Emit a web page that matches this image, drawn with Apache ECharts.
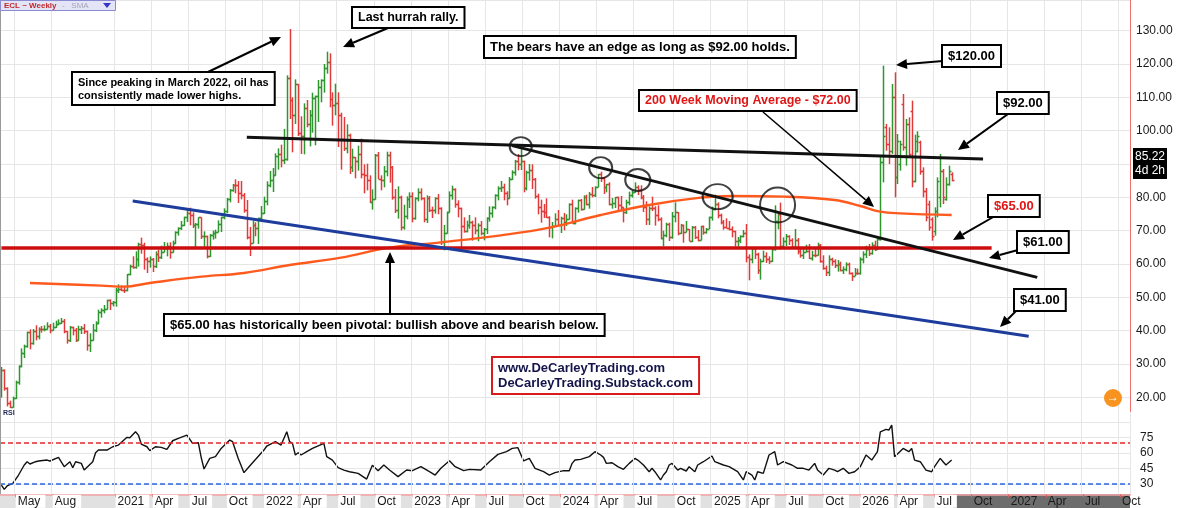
<!DOCTYPE html>
<html>
<head>
<meta charset="utf-8">
<script src="https://cdn.jsdelivr.net/npm/echarts@6/dist/echarts.min.js"></script>
<style>
  html, body { margin: 0; padding: 0; background: #fff; }
  #main { width: 1200px; height: 508px; }
</style>
</head>
<body>
<div id="main"></div>
<script>
// weekly bars [open, high, low, close], one array per year (weeks start Monday 2020-03-30)
const bars2020 = [
  [21.7,29.1,19.9,28.3],[28.3,28.4,22.0,22.8],[22.8,23.0,17.3,18.3],[18.3,19.0,16.8,17.0],[17.0,20.2,16.9,19.8],
  [19.8,25.0,19.5,24.7],[24.7,29.6,23.8,29.4],[29.4,34.7,29.0,33.3],[33.3,35.8,31.8,35.5],[35.5,39.7,34.9,39.6],
  [39.6,40.4,34.4,36.3],[36.3,40.5,35.8,39.8],[39.8,41.6,37.1,38.5],[38.5,41.0,37.4,40.6],[40.6,41.4,39.4,40.5],
  [40.5,41.6,39.8,40.6],[40.6,42.5,40.3,41.3],[41.3,42.0,39.2,40.3],[40.3,42.4,40.0,41.2],[41.2,43.0,40.8,42.0],
  [42.0,43.4,41.6,42.3],[42.3,43.8,42.0,43.0],[43.0,43.5,39.2,39.8],[39.8,39.9,36.1,37.3],[37.3,41.4,36.6,41.1],
  [41.1,41.2,38.6,40.3],[40.3,40.8,36.6,37.1],[37.1,41.5,37.0,40.6],[40.6,41.4,39.0,40.9],[40.9,42.0,39.0,39.9],
  [39.9,40.0,34.0,35.8],[35.8,39.2,33.6,37.1],[37.1,42.0,37.0,40.1],[40.1,42.8,39.6,42.2],[42.2,46.3,41.9,45.5],
  [45.5,46.7,43.9,46.3],[46.3,47.7,45.2,46.6],[46.6,49.3,46.3,49.1],[49.1,49.4,46.2,48.2],[48.2,48.9,47.3,48.5]
];
const bars2021 = [
  [48.5,52.8,47.2,52.2],[52.2,53.9,51.3,52.4],[52.4,53.6,51.9,52.3],[52.3,53.5,51.3,52.2],[52.2,57.0,51.8,56.9],
  [56.9,59.8,56.6,59.5],[59.5,62.3,58.6,59.2],[59.2,63.8,58.6,61.5],[61.5,66.4,59.2,66.1],[66.1,67.9,63.1,65.6],
  [65.6,66.4,58.3,61.4],[61.4,62.0,57.3,61.0],[61.0,62.3,58.9,61.5],[61.5,61.8,57.6,59.3],[59.3,63.8,58.8,63.1],
  [63.1,64.3,60.6,62.1],[62.1,65.5,61.5,63.6],[63.6,66.6,63.5,64.9],[64.9,66.4,62.3,65.4],[65.4,66.5,61.6,63.6],
  [63.6,67.0,63.4,66.3],[66.3,69.8,66.0,69.6],[69.6,71.0,68.5,70.9],[70.9,72.9,70.2,71.6],[71.6,74.2,71.4,74.1],
  [74.1,76.2,72.6,75.2],[75.2,76.9,71.6,74.6],[74.6,75.5,70.8,71.8],[71.8,72.3,65.0,72.1],[72.1,74.0,70.6,74.0],
  [74.0,74.0,67.5,68.3],[68.3,69.8,65.2,68.4],[68.4,68.5,61.7,62.3],[62.3,69.0,62.1,68.7],[68.7,70.0,67.3,69.3],
  [69.3,70.3,67.6,69.7],[69.7,73.1,69.5,72.0],[72.0,74.2,69.6,74.0],[74.0,76.7,73.4,75.9],[75.9,79.8,75.3,79.4],
  [79.4,82.5,78.5,82.3],[82.3,84.0,81.7,83.8],[83.8,85.4,81.2,83.6],[83.6,84.9,78.3,81.3],[81.3,84.9,79.4,80.8],
  [80.8,81.3,75.4,76.1],[76.1,79.2,67.4,68.2],[68.2,71.1,62.4,66.3],[66.3,72.9,66.2,71.7],[71.7,72.5,68.3,70.9],
  [70.9,73.9,66.0,73.8],[73.8,77.4,73.3,75.2]
];
const bars2022 = [
  [75.2,80.2,75.0,78.9],[78.9,84.8,77.6,83.8],[83.8,87.9,83.0,85.1],[85.1,88.8,81.6,86.8],[86.8,93.2,86.5,92.3],
  [92.3,94.7,88.3,93.1],[93.1,95.8,89.0,91.1],[91.1,100.5,90.0,91.6],[91.6,116.6,91.0,115.7],[115.7,130.5,103.5,109.3],
  [109.3,110.0,93.5,104.7],[104.7,115.4,102.0,113.9],[113.9,114.0,98.4,99.3],[99.3,104.3,93.0,98.3],[98.3,108.2,92.9,106.9],
  [106.9,109.2,101.0,102.1],[102.1,106.2,95.3,104.7],[104.7,111.4,99.4,109.8],[109.8,110.5,95.6,110.5],[110.5,115.2,102.6,113.2],
  [113.2,115.4,108.5,115.1],[115.1,120.0,111.4,118.9],[118.9,123.7,117.1,120.7],[120.7,123.2,107.0,109.6],[109.6,111.5,101.5,107.6],
  [107.6,114.1,104.6,108.4],[108.4,111.5,95.1,104.8],[104.8,105.4,88.3,97.6],[97.6,104.1,93.9,94.7],[94.7,101.9,93.2,98.6],
  [98.6,99.1,87.0,89.0],[89.0,94.6,87.6,92.1],[92.1,92.1,85.7,90.8],[90.8,95.5,88.0,93.1],[93.1,97.6,85.7,86.9],
  [86.9,89.9,81.2,86.8],[86.8,90.1,82.1,85.1],[85.1,86.6,78.3,78.7],[78.7,82.4,76.3,79.5],[79.5,93.0,79.3,92.6],
  [92.6,93.6,85.5,85.6],[85.6,86.6,82.1,85.1],[85.1,89.4,83.0,87.9],[87.9,93.7,86.3,92.6],[92.6,93.7,84.4,89.0],
  [89.0,89.4,79.3,80.1],[80.1,82.5,75.3,76.3],[76.3,83.3,73.6,80.0],[80.0,80.5,70.1,71.0],[71.0,77.8,70.3,74.3],
  [74.3,80.3,73.4,79.6],[79.6,81.5,76.8,80.3]
];
const bars2023 = [
  [80.3,81.5,72.5,73.8],[73.8,80.0,73.3,79.9],[79.9,82.7,78.8,81.6],[81.6,82.7,79.1,79.7],[79.7,80.0,72.5,73.4],
  [73.4,80.6,72.3,79.7],[79.7,80.4,75.6,76.3],[76.3,77.2,73.8,76.2],[76.2,80.0,75.1,79.7],[79.7,81.0,74.9,76.7],
  [76.7,77.0,65.7,66.7],[66.7,71.7,64.1,69.3],[69.3,75.7,69.1,75.7],[75.7,81.8,75.5,80.7],[80.7,83.5,79.3,82.5],
  [82.5,82.7,76.9,77.9],[77.9,79.1,74.0,76.8],[76.8,76.9,63.6,71.3],[71.3,74.0,69.4,70.0],[70.0,73.0,69.5,71.7],
  [71.7,74.7,70.6,72.7],[72.7,73.0,67.0,71.7],[71.7,74.0,68.9,70.2],[70.2,72.2,66.8,71.8],[71.8,72.9,68.6,69.2],
  [69.2,70.8,67.1,70.6],[70.6,74.0,69.0,73.9],[73.9,77.3,72.7,75.4],[75.4,77.3,73.9,77.1],[77.1,80.9,76.4,80.6],
  [80.6,83.3,79.1,82.8],[82.8,84.9,81.6,83.2],[83.2,84.1,79.1,81.3],[81.3,81.8,77.6,79.8],[79.8,86.1,79.6,85.6],
  [85.6,88.1,85.2,87.5],[87.5,91.2,86.5,90.8],[90.8,93.0,88.1,90.0],[90.0,95.0,88.2,90.8],[90.8,91.0,81.5,82.8],
  [82.8,88.0,82.1,87.7],[87.7,90.0,85.0,88.1],[88.1,89.9,82.5,85.5],[85.5,85.8,79.6,80.5],[80.5,81.1,74.9,77.2],
  [77.2,79.3,72.4,75.9],[75.9,78.0,73.8,75.5],[75.5,79.7,73.8,74.1],[74.1,74.3,68.0,71.2],[71.2,72.6,67.7,71.4],
  [71.4,75.2,71.3,73.6],[73.6,76.2,71.4,71.7]
];
const bars2024 = [
  [71.7,74.2,69.3,73.8],[73.8,75.3,70.1,72.7],[72.7,74.9,71.4,73.4],[73.4,78.2,73.3,78.0],[78.0,79.3,72.2,72.3],
  [72.3,77.0,71.9,76.8],[76.8,79.3,75.4,79.2],[79.2,79.5,76.0,76.5],[76.5,80.6,76.3,80.0],[80.0,80.8,77.6,78.0],
  [78.0,81.6,76.6,81.0],[81.0,83.1,80.0,80.6],[80.6,83.3,80.1,83.2],[83.2,87.0,83.0,86.9],[86.9,87.7,84.6,85.7],
  [85.7,86.2,81.0,83.1],[83.1,84.0,81.5,83.9],[83.9,84.5,77.6,78.1],[78.1,79.8,76.6,78.3],[78.3,80.1,76.8,80.1],
  [80.1,80.2,76.1,77.7],[77.7,80.4,76.3,77.0],[77.0,77.0,72.5,75.5],[75.5,79.3,75.0,78.5],[78.5,81.7,77.6,80.7],
  [80.7,82.1,79.9,81.5],[81.5,84.5,81.4,83.2],[83.2,83.6,80.7,82.2],[82.2,83.6,79.4,80.1],[80.1,80.7,75.6,77.2],
  [77.2,78.8,71.7,73.5],[73.5,77.3,71.7,76.8],[76.8,80.2,75.9,76.7],[76.7,77.3,71.5,74.8],[74.8,77.6,72.8,73.6],
  [73.6,74.0,67.4,67.7],[67.7,70.0,65.3,68.7],[68.7,72.4,68.0,71.9],[71.9,72.4,66.9,68.2],[68.2,75.6,67.6,74.4],
  [74.4,78.5,72.5,75.6],[75.6,75.6,68.6,69.2],[69.2,72.0,69.0,71.8],[71.8,71.8,66.4,69.5],[69.5,72.9,69.5,70.4],
  [70.4,70.5,66.9,67.0],[67.0,71.4,66.6,71.2],[71.2,71.4,67.5,68.0],[68.0,70.2,66.8,67.2],[67.2,71.4,67.1,71.3],
  [71.3,71.5,68.8,69.5],[69.5,70.8,69.1,70.6],[70.6,74.2,70.5,74.0]
];
const bars2025 = [
  [74.0,77.2,73.0,76.6],[76.6,80.8,76.1,77.9],[77.9,78.5,73.7,74.7],[74.7,75.1,71.9,72.5],[72.5,73.2,70.3,71.0],
  [71.0,73.7,70.7,70.8],[70.8,72.9,70.1,70.4],[70.4,71.3,68.0,69.8],[69.8,70.0,65.2,67.0],[67.0,68.1,65.2,67.2],
  [67.2,68.6,66.3,68.3],[68.3,70.2,68.0,69.4],[69.4,72.0,60.5,62.0],[62.0,62.9,55.1,61.5],[61.5,64.9,60.2,64.7],
  [64.7,64.9,61.5,63.0],[63.0,63.4,57.0,58.3],[58.3,61.6,55.3,61.0],[61.0,64.0,60.6,62.5],[62.5,63.5,60.3,61.5],
  [61.5,62.3,60.0,60.8],[60.8,65.0,60.6,64.6],[64.6,77.6,64.0,73.0],[73.0,75.7,70.4,74.9],[74.9,78.4,64.4,65.5],
  [65.5,68.0,64.7,67.0],[67.0,69.0,65.4,68.5],[68.5,68.6,65.7,67.3],[67.3,67.7,64.8,65.2],[65.2,70.5,64.9,67.3],
  [67.3,67.8,62.9,63.9],[63.9,64.5,61.9,62.8],[62.8,64.5,61.5,63.7],[63.7,65.8,63.5,64.0],[64.0,66.0,61.5,61.9],
  [61.9,64.0,61.0,62.7],[62.7,64.5,62.0,62.6],[62.6,66.4,62.5,65.7],[65.7,66.0,60.4,60.9],[60.9,62.6,58.3,58.9],
  [58.9,59.5,56.4,57.5],[57.5,62.6,56.4,61.5],[61.5,61.9,59.5,61.0],[61.0,61.4,58.8,59.8],[59.8,61.2,57.7,60.1],
  [60.1,60.7,57.8,58.1],[58.1,59.3,57.0,58.6],[58.6,60.5,57.8,60.1],[60.1,60.4,56.9,57.4],[57.4,57.5,54.9,56.5],
  [56.5,58.8,56.4,57.4],[57.4,58.6,56.8,57.3]
];
const bars2026 = [
  [57.3,62.0,56.8,61.6],[61.6,63.8,60.2,62.9],[62.9,65.5,61.8,64.6],[64.6,66.0,62.4,63.2],[63.2,66.5,62.8,65.8],
  [65.8,67.0,63.9,64.5],[64.5,68.3,64.2,67.4],[67.4,92.5,67.0,90.6],[90.6,119.5,84.5,98.5],[101.0,102.0,94.0,96.0],
  [96.0,101.0,90.0,94.0],[94.0,114.0,93.0,110.0],[110.0,117.5,80.0,86.0],[86.0,99.0,84.0,97.0],[90.0,97.0,88.0,96.0],
  [108.0,111.0,94.0,95.0],[95.0,103.5,89.5,102.0],[102.0,104.0,92.0,93.0],[106.0,109.0,83.0,85.0],[85.0,98.8,84.5,97.0],
  [94.0,99.8,93.5,98.5],[96.5,97.0,86.8,88.0],[88.0,89.0,80.0,82.0],[82.0,82.8,72.8,74.0],[78.0,79.0,70.0,71.0],
  [73.5,74.0,67.0,68.5],[70.0,77.0,68.5,76.0],[76.0,86.0,74.0,85.0],[80.0,93.0,77.0,88.0],[88.0,88.5,78.0,80.0],
  [79.5,86.0,79.0,84.0],[84.0,89.5,83.5,88.0],[87.0,87.5,84.8,85.22]
];

// 200-week moving average, read at these week numbers
const maWeek  = [10, 35, 43, 52, 70, 85, 101, 119, 136, 154, 175, 192, 210, 227, 245, 256, 274, 292, 301, 308, 315, 333];
const maValue = [54.3, 53.5, 53.2, 54.3, 56.2, 57.3, 59.7, 61.9, 64.9, 66.5, 68.6, 70.9, 74.7, 77.7, 79.9, 80.4, 80.2, 79.2, 77.4, 75.7, 75.2, 74.7];

// RSI, read at these week numbers
const rsiWeek = [0,1,2,4,6,8,9,10,12,13,16,17,20,22,24,25,26,28,29,32,33,34,37,39,41,44,45,47,48,49,51,52,54,56,58,60,62,65,67,69,70,71,73,75,77,80,81,83,85,87,
  92,93,96,98,100,101,102,103,104,105,107,109,113,114,116,118,120,122,125,128,130,132,134,136,139,142,144,147,150,152,154,157,159,162,164,168,171,174,177,179,181,183,185,187,190,192,194,197,199,200,201,203,206,208,210,
  211,212,214,216,218,220,222,223,225,227,228,229,231,232,233,234,235,237,238,240,241,243,244,246,249,250,253,255,258,260,261,263,264,265,267,269,271,272,274,277,279,281,283,285,286,288,290,292,293,295,297,299,
  301,303,305,307,308,310,311,312,313,316,318,319,320,322,324,326,327,329,330,331,333];
const rsiValue = [29.0,24.8,28.1,30.6,38.7,48.4,51.6,49.4,51.6,52.3,53.2,52.3,55.8,46.8,51.6,45.8,51.6,50.0,43.5,51.6,60.3,62.9,62.9,66.1,67.7,75.2,74.8,80.6,77.4,68.7,66.1,62.3,66.1,65.5,63.5,71.9,74.2,77.4,69.4,70.0,55.8,44.5,54.8,56.5,64.5,72.6,71.0,54.8,41.0,47.4,
  62.9,66.8,71.0,67.7,80.6,71.0,69.4,58.1,60.3,58.1,61.3,64.5,69.4,56.5,53.2,45.8,43.5,41.9,40.3,34.8,48.1,42.9,48.4,43.5,37.1,43.5,42.9,46.8,41.9,38.7,45.2,52.6,46.8,42.9,44.2,43.5,51.6,58.7,61.3,64.5,65.2,52.3,54.8,45.2,41.9,38.7,41.0,42.9,42.9,50.0,53.2,53.9,56.5,61.3,58.1,
  55.8,50.0,50.6,46.8,44.2,50.0,54.8,53.2,48.4,41.9,45.2,41.9,33.9,38.7,41.9,48.4,50.0,43.5,45.2,42.6,46.8,41.9,48.4,51.6,57.1,51.6,48.4,46.8,41.9,33.9,41.9,38.7,33.9,41.9,40.3,58.1,61.3,48.4,51.6,48.4,45.2,45.2,43.5,50.0,43.5,38.7,45.2,43.5,41.9,45.2,40.3,41.9,
  46.8,58.1,53.2,61.3,80.6,82.9,82.3,87.1,56.5,64.5,61.3,64.5,53.2,51.6,43.5,41.9,46.8,54.8,51.6,48.4,53.2];

// hand-drawn trend lines: [startWeek, startPrice, endWeek, endPrice]
const upperLine   = [86, 98.0, 344, 91.5];
const fallingLine = [179, 95.5, 363, 56.0];
const blueLine    = [46, 78.9, 360, 38.3];
const pivotLine   = [0, 64.8, 347, 64.8];

// circled touches of the falling trend line
const circleWeek  = [182, 210, 223, 251, 272];
const circlePrice = [95.2, 88.9, 85.2, 80.2, 77.7];

const priceTicks = [20, 30, 40, 50, 60, 70, 80, 90, 100, 110, 120, 130];
const rsiTicks = [30, 45, 60, 75];
const monthNames = ['Jan','Feb','Mar','Apr','May','Jun','Jul','Aug','Sep','Oct','Nov','Dec'];

// ---------- build ----------
const NWEEKS = 396;
const weeks = [];
for (let i = 0; i < NWEEKS; i++) {
  weeks.push(new Date(Date.UTC(2020, 2, 30) + i * 7 * 864e5).toISOString().slice(0, 10));
}
const allBars = [].concat(bars2020, bars2021, bars2022, bars2023, bars2024, bars2025, bars2026);
const ohlc = allBars.map((b, i) => [i, b[0], b[1], b[2], b[3]]);
const lastBar = allBars.length - 1;

function isLabelWeek(i) {
  const d = weeks[i];
  const y = +d.slice(0, 4), m = +d.slice(5, 7), day = +d.slice(8, 10);
  if (day > 7) return false;
  if (y === 2020) return m === 5 || m === 8;
  return m === 1 || m === 4 || m === 7 || m === 10;
}
function dateLabel(v) {
  const m = +v.slice(5, 7);
  const t = m === 1 ? v.slice(0, 4) : monthNames[m - 1];
  return weeks.indexOf(v) > lastBar ? '{d|' + t + '}' : '{w|' + t + '}';
}

// date band: light grey under the data, dark grey after the last bar
const bandData = [[0, lastBar, 1], [lastBar + 1, NWEEKS - 1, 2]];

const UP = '#2f962f', DOWN = '#e23a3a';
const FONT = '"Liberation Sans", Arial, sans-serif';

function renderOHLC(params, api) {
  const i = api.value(0);
  const o = api.value(1), h = api.value(2), l = api.value(3), c = api.value(4);
  const pH = api.coord([i, h]), pL = api.coord([i, l]);
  const pO = api.coord([i, o]), pC = api.coord([i, c]);
  const x = Math.round(pH[0]) + 0.5;
  const color = c >= o ? UP : DOWN;
  const st = { stroke: color, lineWidth: 1.5 };
  const yo = Math.round(pO[1]) + 0.5, yc = Math.round(pC[1]) + 0.5;
  return {
    type: 'group',
    children: [
      { type: 'line', shape: { x1: x, y1: pH[1], x2: x, y2: pL[1] }, style: st },
      { type: 'line', shape: { x1: x - 2, y1: yo, x2: x, y2: yo }, style: st },
      { type: 'line', shape: { x1: x, y1: yc, x2: x + 2, y2: yc }, style: st }
    ]
  };
}
function renderBand(params, api) {
  const kind = api.value(2);
  const a = api.coord([api.value(0), 0]), b = api.coord([api.value(1), 0]);
  const w = api.size([1, 0])[0];
  const cs = params.coordSys;
  return {
    type: 'rect',
    shape: { x: a[0] - w / 2, y: cs.y, width: b[0] - a[0] + w, height: cs.height },
    style: { fill: kind === 2 ? '#6d6d6d' : '#e1e1e1' }
  };
}

function seg(line, color, width) {
  return [
    { coord: [line[0], line[1]], lineStyle: { color: color, width: width, type: 'solid' } },
    { coord: [line[2], line[3]] }
  ];
}

// annotations
function arrow(x1, y1, x2, y2, w) {
  const a = Math.atan2(y2 - y1, x2 - x1), L = 11, W = 5;
  const bx = x2 - L * Math.cos(a), by = y2 - L * Math.sin(a);
  return [
    { type: 'line', z: 100, shape: { x1: x1, y1: y1, x2: bx, y2: by }, style: { stroke: '#000', lineWidth: w || 2 } },
    { type: 'polygon', z: 100, shape: { points: [[x2, y2], [bx + W * Math.sin(a), by - W * Math.cos(a)], [bx - W * Math.sin(a), by + W * Math.cos(a)]] }, style: { fill: '#000' } }
  ];
}
function note(x, y, text, size, color, border) {
  return {
    type: 'text', z: 101, x: x, y: y,
    style: {
      text: text, fill: color || '#000', font: 'bold ' + size + 'px ' + FONT,
      backgroundColor: '#fff', borderColor: border || '#000', borderWidth: 2,
      padding: [3, 5, 2, 5], lineHeight: Math.round(size * 1.15)
    }
  };
}

const graphics = [].concat(
  arrow(208, 72, 281, 37),
  arrow(388, 28, 343, 47),
  arrow(763, 112, 874, 207, 1.5),
  arrow(943, 61, 896, 65),
  arrow(1008, 114, 958, 150),
  arrow(995, 216, 953, 240),
  arrow(1018, 250, 989, 258),
  arrow(1018, 309, 1000, 327),
  arrow(390, 315, 390, 252),
  [
    note(73, 73, 'Since peaking in March 2022, oil has\nconsistently made lower highs.', 11),
    note(353, 8, 'Last hurrah rally.', 12.5),
    note(485, 37, 'The bears have an edge as long as $92.00 holds.', 13),
    note(640, 91, '200 Week Moving Average - $72.00', 12.5, '#e01515'),
    note(943, 46, '$120.00', 13),
    note(998, 93, '$92.00', 13),
    note(989, 196, '$65.00', 13, '#e01515'),
    note(1018, 232, '$61.00', 13),
    note(1015, 290, '$41.00', 13),
    note(165, 315, '$65.00 has historically been pivotal: bullish above and bearish below.', 13),
    note(493, 358, 'www.DeCarleyTrading.com\nDeCarleyTrading.Substack.com', 13, '#14144a', '#d81b1b'),
    // header strip
    { type: 'rect', z: 101, shape: { x: 0.5, y: 0.5, width: 115, height: 10 }, style: { fill: '#e4e4f7', stroke: '#8a8ad0', lineWidth: 1 } },
    { type: 'text', z: 102, x: 4, y: 1.5, style: { text: 'ECL ~ Weekly', font: 'bold 8px ' + FONT, fill: '#c0282d' } },
    { type: 'text', z: 102, x: 62, y: 1.5, style: { text: '-   SMA', font: '8px ' + FONT, fill: '#a5a5bb' } },
    { type: 'polygon', z: 102, shape: { points: [[103, 3], [111, 3], [107, 8]] }, style: { fill: '#3535c8' } },
    { type: 'line', z: 100, shape: { x1: 0.5, y1: 0, x2: 0.5, y2: 494 }, style: { stroke: '#9a9a9a', lineWidth: 1 } },
    { type: 'text', z: 102, x: 3, y: 410, style: { text: 'RSI', font: 'bold 7px ' + FONT, fill: '#1e2a55' } },
    // last price tag
    { type: 'rect', z: 101, shape: { x: 1133, y: 148, width: 34, height: 31 }, style: { fill: '#000' } },
    { type: 'text', z: 102, x: 1135, y: 150, style: { text: '85.22\n4d 2h', font: '12px ' + FONT, fill: '#fff', lineHeight: 14 } },
    // scroll button
    { type: 'circle', z: 101, shape: { cx: 1113, cy: 398, r: 9 }, style: { fill: '#f7931e' } },
    { type: 'text', z: 102, x: 1113, y: 398, style: { text: '\u2192', font: 'bold 12px ' + FONT, fill: '#fff', align: 'center', verticalAlign: 'middle' } }
  ]
);

const axisFont = { fontFamily: FONT, fontSize: 12, color: '#1a1a1a' };
const vGrid = { show: true, interval: isLabelWeek, lineStyle: { color: '#e6e6e6', width: 1 } };

const option = {
  animation: false,
  backgroundColor: '#fff',
  grid: [
    { left: 0, top: 0, width: 1130, height: 414 },
    { left: 0, top: 411.76, width: 1130, height: 82.56 },
    { left: 0, top: 494.3, width: 1130, height: 13.7 }
  ],
  xAxis: [
    { type: 'category', gridIndex: 0, data: weeks, boundaryGap: true,
      axisLine: { show: false }, axisTick: { show: false }, axisLabel: { show: false }, splitLine: vGrid },
    { type: 'category', gridIndex: 1, data: weeks, boundaryGap: true, z: 10,
      axisLine: { show: true, lineStyle: { color: '#f2a3a3', width: 1.5 } },
      axisTick: { show: true, interval: isLabelWeek, alignWithLabel: true, length: 3, lineStyle: { color: '#e85c5c' } },
      axisLabel: {
        interval: isLabelWeek, formatter: dateLabel, align: 'left', margin: 0.5,
        rich: {
          w: Object.assign({ backgroundColor: '#fff', padding: [1, 5, 0, 2], lineHeight: 13 }, axisFont),
          d: Object.assign({ padding: [1, 5, 0, 2], lineHeight: 13 }, axisFont)
        }
      },
      splitLine: vGrid },
    { type: 'category', gridIndex: 2, data: weeks, boundaryGap: true, show: false }
  ],
  yAxis: [
    { type: 'value', gridIndex: 0, position: 'right', min: 15, max: 139.2, interval: 5,
      axisLine: { show: true, lineStyle: { color: '#ef7070', width: 1 } },
      axisTick: { show: false },
      axisLabel: Object.assign({ margin: 6, padding: [0, 0, 9, 0],
        formatter: v => priceTicks.indexOf(v) >= 0 ? v.toFixed(2) : '' }, axisFont),
      splitLine: { show: true, lineStyle: { color: ['rgba(0,0,0,0)', '#e6e6e6'], width: 1 } } },
    { type: 'value', gridIndex: 1, position: 'right', min: 20, max: 100, interval: 5,
      axisLine: { show: true, lineStyle: { color: '#ef7070', width: 1 } },
      axisTick: { show: false },
      axisLabel: Object.assign({ margin: 10, padding: [0, 0, 9, 0],
        formatter: v => rsiTicks.indexOf(v) >= 0 ? String(v) : '' }, axisFont),
      splitLine: { show: true, lineStyle: { color: ['rgba(0,0,0,0)', 'rgba(0,0,0,0)', '#e6e6e6'], width: 1 } } },
    { type: 'value', gridIndex: 2, min: 0, max: 1, show: false }
  ],
  series: [
    { type: 'custom', name: 'band', xAxisIndex: 2, yAxisIndex: 2, data: bandData,
      encode: { x: [0, 1] }, renderItem: renderBand, silent: true, z: 1 },
    { type: 'custom', name: 'ECL', xAxisIndex: 0, yAxisIndex: 0, data: ohlc,
      encode: { x: 0, y: [1, 2, 3, 4] }, renderItem: renderOHLC, clip: true, z: 2,
      markLine: {
        silent: true, symbol: ['none', 'none'], label: { show: false },
        data: [
          seg(pivotLine, '#cc0d0d', 3.5),
          seg(blueLine, '#1d3c9c', 3),
          seg(upperLine, '#111', 3),
          seg(fallingLine, '#111', 3)
        ]
      } },
    { type: 'line', name: 'SMA 200', xAxisIndex: 0, yAxisIndex: 0,
      data: maWeek.map((w, k) => [w, maValue[k]]), smooth: 0.4, showSymbol: false, z: 3,
      lineStyle: { color: '#ff5a1e', width: 2.4 } },
    { type: 'scatter', name: 'touches', xAxisIndex: 0, yAxisIndex: 0, z: 4,
      data: circleWeek.map((w, k) => [w, circlePrice[k]]),
      symbol: 'circle',
      symbolSize: (v, p) => [[22, 19], [23, 21], [25, 22], [30, 25], [35, 35]][p.dataIndex],
      itemStyle: { color: 'rgba(0,0,0,0)', borderColor: '#111', borderWidth: 2 } },
    { type: 'line', name: 'RSI', xAxisIndex: 1, yAxisIndex: 1,
      data: rsiWeek.map((w, k) => [w, rsiValue[k]]), showSymbol: false, z: 3,
      lineStyle: { color: '#111', width: 1.4 },
      markLine: {
        silent: true, symbol: ['none', 'none'], label: { show: false },
        data: [
          { yAxis: 70, lineStyle: { color: '#e8262a', width: 1.5, type: [5, 3] } },
          { yAxis: 30, lineStyle: { color: '#2a66e0', width: 1.5, type: [5, 3] } }
        ]
      } }
  ],
  graphic: graphics
};

const chart = echarts.init(document.getElementById('main'), null, { renderer: 'canvas' });
chart.setOption(option);
</script>
</body>
</html>
